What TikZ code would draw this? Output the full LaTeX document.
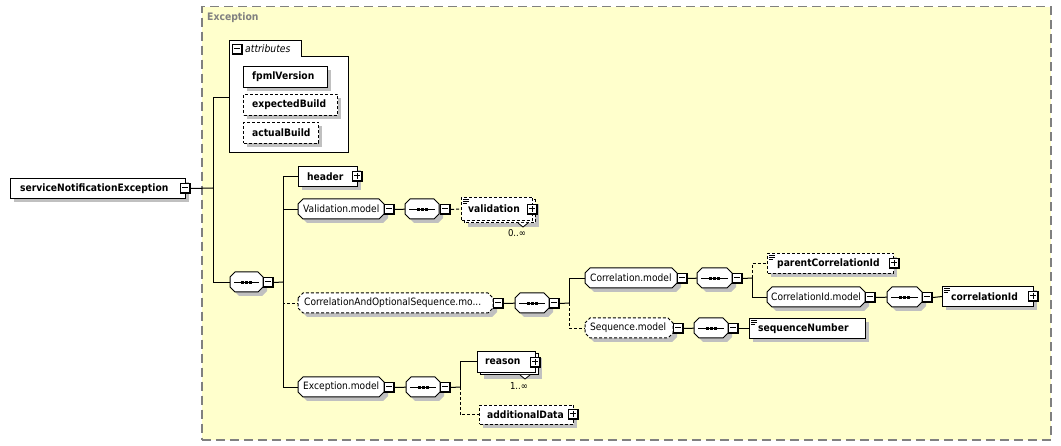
\documentclass[tikz,border=0pt]{standalone}
\usepackage{fontspec}
\setmainfont{DejaVu Sans}[FakeStretch=0.9]
\usetikzlibrary{calc}
\definecolor{bgyel}{RGB}{255,255,204}
\definecolor{shad}{RGB}{192,192,192}
\definecolor{frame}{RGB}{128,128,128}
\tikzset{
  conn/.style={line width=1pt},
  optl/.style={dash pattern=on 3pt off 2pt},
  elname/.style={font=\fontsize{10.2}{12}\selectfont\bfseries, inner sep=0pt, anchor=west},
  mdname/.style={font=\fontsize{10.1}{12}\selectfont, inner sep=0pt, anchor=west},
  card/.style={font=\fontsize{9.5}{11}\selectfont, inner sep=0pt},
}
% rectangular element
\newcommand\elrect[8]{%
  \fill[shad] (#3+4,#4+4) rectangle (#5+4,#6+4);
  \node[draw, fill=white, line width=1pt, #1, inner sep=0pt, anchor=north west,
        minimum width={(#5-#3)*1pt}, minimum height={(#6-#4)*1pt}] (#2) at (#3,#4) {};
  \node[elname] (#2-t) at ($(#2.west)+(#8,0)$) {#7};
}
% stacked (repeated) element
\newcommand\elstack[8]{%
  \fill[shad] (#3+7,#4+7) rectangle (#5+7,#6+7);
  \draw[fill=white, line width=1pt, #1] (#3+3,#4+3) rectangle (#5+3,#6+3);
  \node[draw, fill=white, line width=1pt, #1, inner sep=0pt, anchor=north west,
        minimum width={(#5-#3)*1pt}, minimum height={(#6-#4)*1pt}] (#2) at (#3,#4) {};
  \node[elname] (#2-t) at ($(#2.west)+(#8,0)$) {#7};
}
% model group (octagon)
\newcommand\eloct[8]{%
  \fill[shad] (#3+4,#4+9) -- (#3+9,#4+4) -- (#5-1,#4+4) -- (#5+4,#4+9) -- (#5+4,#6-1) -- (#5-1,#6+4) -- (#3+9,#6+4) -- (#3+4,#6-1) -- cycle;
  \draw[fill=white, line width=1pt, #1] (#3,#4+5) -- (#3+5,#4) -- (#5-5,#4) -- (#5,#4+5) -- (#5,#6-5) -- (#5-5,#6) -- (#3+5,#6) -- (#3,#6-5) -- cycle;
  \node[inner sep=0pt, anchor=north west, minimum width={(#5-#3)*1pt}, minimum height={(#6-#4)*1pt}] (#2) at (#3,#4) {};
  \node[mdname] (#2-t) at ($(#2.west)+(#8,0)$) {#7};
}
% sequence compositor
\newcommand\elseq[5]{%
  \fill[shad] (#2+4,#3+9) -- (#2+9,#3+4) -- (#4-1,#3+4) -- (#4+4,#3+9) -- (#4+4,#5-1) -- (#4-1,#5+4) -- (#2+9,#5+4) -- (#2+4,#5-1) -- cycle;
  \draw[fill=white, line width=1pt] (#2,#3+5) -- (#2+5,#3) -- (#4-5,#3) -- (#4,#3+5) -- (#4,#5-5) -- (#4-5,#5) -- (#2+5,#5) -- (#2,#5-5) -- cycle;
  \node[inner sep=0pt, anchor=north west, minimum width={(#4-#2)*1pt}, minimum height={(#5-#3)*1pt}] (#1) at (#2,#3) {};
  \draw[line width=1pt] ($(#1.west)+(4,0)$) -- ($(#1.east)+(-4,0)$);
  \fill ($(#1.center)+(-5.5,-1.5)$) rectangle ++(3,3);
  \fill ($(#1.center)+(-1.5,-1.5)$) rectangle ++(3,3);
  \fill ($(#1.center)+(2.5,-1.5)$) rectangle ++(3,3);
}
% expand/collapse box: name, cx, cy, plus(1)/minus(0)
\newcommand\tgl[4]{%
  \fill[black] (#2-5,#3-5) rectangle (#2+6,#3+6);
  \fill[white] (#2-4,#3-4) rectangle (#2+4,#3+4);
  \draw[line width=1pt] (#2-3,#3) -- (#2+3,#3);
  \ifnum#4=1 \draw[line width=1pt] (#2,#3-3) -- (#2,#3+3);\fi
  \node[inner sep=0pt, minimum size=11pt] (#1) at (#2+0.5,#3+0.5) {};
}
% documentation icon
\newcommand\docicon[2]{%
  \draw[line width=0.6pt] (#1+2,#2+2.5) -- ++(6,0) (#1+2,#2+4.5) -- ++(6,0) (#1+2,#2+6.5) -- ++(4,0);
}
\begin{document}
\begin{tikzpicture}[x=1pt,y=-1pt]
\useasboundingbox (0,0) rectangle (1061,446);
% group frame
\node[draw=frame, fill=bgyel, line width=1.5pt, dash pattern=on 9pt off 5pt, inner sep=0pt,
      anchor=north west, minimum width=849pt, minimum height=433pt] (grp) at (201,6) {};
\node[anchor=west, inner sep=0pt, text=frame, font=\fontsize{10.3}{12}\selectfont\bfseries] (grpT) at (207,18) {Exception};

% root
\elrect{}{main}{10}{178}{185}{198}{serviceNotificationException}{10}
\tgl{mainT}{185}{188}{0}
\coordinate (f1) at (213,188);
\draw[conn] (mainT.east) -- (f1);

% attributes
\draw[fill=white, line width=1pt] (229,153) -- (229,41) -- (301,41) -- (301,57) -- (348,57) -- (348,153) -- cycle;
\node[inner sep=0pt, anchor=north west, minimum width=119pt, minimum height=112pt] (attrs) at (229,41) {};
\tgl{attrsT}{237}{49}{0}
\node[anchor=west, inner sep=0pt, font=\fontsize{10.3}{12}\selectfont\itshape] (attrsL) at (245,49) {attributes};
\elrect{}{fpml}{243}{66}{327}{87}{fpmlVersion}{9}
\elrect{optl}{expb}{243}{94}{337}{115}{expectedBuild}{9}
\elrect{optl}{actb}{243}{122}{318}{143}{actualBuild}{9}
\draw[conn] (f1) |- (attrs.west);

% first sequence
\elseq{seq1}{230}{272}{263}{292}
\tgl{seq1T}{268}{282}{0}
\draw[conn] (f1) |- (seq1.west);
\coordinate (f2) at (283,282);
\draw[conn] (seq1T.east) -- (f2);

% header
\elrect{}{header}{298}{166}{357}{186}{header}{9}
\tgl{headerT}{357}{176}{1}
\draw[conn] (f2) |- (header.west);

% Validation.model
\eloct{}{valm}{298}{199}{384}{219}{Validation.model}{5}
\tgl{valmT}{389}{209}{0}
\draw[conn] (f2) |- (valm.west);
\elseq{seq2}{405}{199}{439}{219}
\tgl{seq2T}{445}{209}{0}
\draw[conn] (valmT.east) -- (seq2.west);
\elstack{optl}{valid}{461}{197}{532}{220}{validation}{7}
\draw[fill=white, line width=0.8pt] (518,223) -- (523,227) -- (528,223);
\docicon{461}{197}
\tgl{validT}{532}{209}{1}
\draw[conn, optl] (seq2T.east) -- (valid.west);
\node[card] (validC) at (517,233) {0..∞};

% CorrelationAndOptionalSequence.model
\eloct{optl}{caos}{298}{293}{493}{313}{CorrelationAndOptionalSequence.mo...}{6}
\tgl{caosT}{498}{303}{0}
\draw[conn, optl] (f2) |- (caos.west);
\elseq{seq3}{515}{293}{549}{313}
\tgl{seq3T}{554}{303}{0}
\draw[conn] (caosT.east) -- (seq3.west);
\coordinate (f3) at (569,303);
\draw[conn] (seq3T.east) -- (f3);

% Correlation.model
\eloct{}{corm}{585}{268}{677}{288}{Correlation.model}{5}
\tgl{cormT}{682}{278}{0}
\draw[conn] (f3) |- (corm.west);
\elseq{seq4}{697}{268}{732}{288}
\tgl{seq4T}{737}{278}{0}
\draw[conn] (cormT.east) -- (seq4.west);
\coordinate (f4) at (752,278);
\draw[conn] (seq4T.east) -- (f4);
\elrect{optl}{pcid}{767}{253}{893}{273}{parentCorrelationId}{10}
\docicon{767}{253}
\tgl{pcidT}{894}{263}{1}
\draw[conn, optl] (f4) |- (pcid.west);
\eloct{}{cidm}{767}{287}{865}{307}{CorrelationId.model}{4}
\tgl{cidmT}{870}{297}{0}
\draw[conn] (f4) |- (cidm.west);
\elseq{seq5}{887}{287}{922}{307}
\tgl{seq5T}{927}{297}{0}
\draw[conn] (cidmT.east) -- (seq5.west);
\elrect{}{cid}{942}{286}{1033}{306}{correlationId}{9}
\docicon{942}{286}
\tgl{cidT}{1033}{296}{1}
\draw[conn] (seq5T.east) -- (cid.west);

% Sequence.model
\eloct{optl}{seqm}{585}{318}{673}{338}{Sequence.model}{5}
\tgl{seqmT}{678}{328}{0}
\draw[conn, optl] (f3) |- (seqm.west);
\elseq{seq6}{694}{318}{728}{338}
\tgl{seq6T}{733}{328}{0}
\draw[conn] (seqmT.east) -- (seq6.west);
\elrect{}{seqn}{749}{318}{865}{338}{sequenceNumber}{9}
\docicon{749}{318}
\draw[conn] (seq6T.east) -- (seqn.west);

% Exception.model
\eloct{}{excm}{298}{377}{384}{397}{Exception.model}{5}
\tgl{excmT}{389}{387}{0}
\draw[conn] (f2) |- (excm.west);
\elseq{seq7}{406}{377}{440}{397}
\tgl{seq7T}{445}{387}{0}
\draw[conn] (excmT.east) -- (seq7.west);
\coordinate (f5) at (460,387);
\draw[conn] (seq7T.east) -- (f5);
\elstack{}{reason}{477}{351}{535}{372}{reason}{8}
\draw[fill=white, line width=0.8pt] (520,375) -- (525,379) -- (530,375);
\tgl{reasonT}{535}{362}{1}
\draw[conn] (f5) |- (reason.west);
\node[card] (reasonC) at (519,386) {1..∞};
\elrect{optl}{addd}{479}{405}{573}{424}{additionalData}{8}
\tgl{adddT}{573}{414}{1}
\draw[conn, optl] (f5) |- (addd.west);
\end{tikzpicture}
\end{document}
